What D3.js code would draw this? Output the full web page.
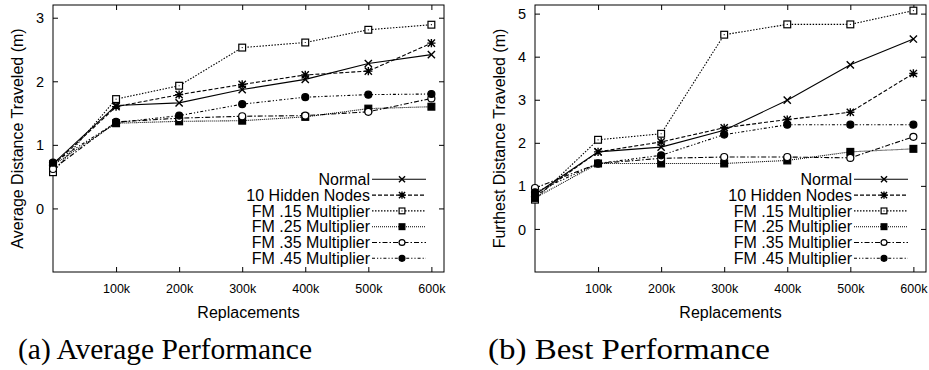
<!DOCTYPE html>
<html><head><meta charset="utf-8">
<script src="https://cdn.jsdelivr.net/npm/d3@7"></script>
<style>body{margin:0;background:#fff} svg{display:block}</style>
</head><body>
<svg id="c" width="929" height="370"></svg>
<script>
// ---------- data ----------
const replacements = [0, 100000, 200000, 300000, 400000, 500000, 600000];
const xTickValues = [100000, 200000, 300000, 400000, 500000, 600000];
const xTickLabels = ["100k", "200k", "300k", "400k", "500k", "600k"];
const seriesNames = ["Normal", "10 Hidden Nodes", "FM .15 Multiplier", "FM .25 Multiplier", "FM .35 Multiplier", "FM .45 Multiplier"];

// (a) Average performance
const avgNormal = [0.70, 1.62, 1.66, 1.87, 2.03, 2.28, 2.42];
const avgHidden = [0.68, 1.60, 1.79, 1.95, 2.10, 2.16, 2.60];
const avgFM15   = [0.57, 1.72, 1.93, 2.53, 2.61, 2.81, 2.89];
const avgFM25   = [0.68, 1.34, 1.37, 1.38, 1.44, 1.57, 1.60];
const avgFM35   = [0.62, 1.36, 1.42, 1.45, 1.46, 1.52, 1.73];
const avgFM45   = [0.72, 1.35, 1.46, 1.64, 1.75, 1.79, 1.80];
const avgYTicks = [0, 1, 2, 3];

// (b) Best performance
const bestNormal = [0.80, 1.79, 1.90, 2.29, 2.99, 3.81, 4.41];
const bestHidden = [0.75, 1.79, 2.02, 2.35, 2.54, 2.71, 3.61];
const bestFM15   = [0.68, 2.07, 2.21, 4.51, 4.75, 4.75, 5.07];
const bestFM25   = [0.72, 1.52, 1.52, 1.52, 1.59, 1.79, 1.86];
const bestFM35   = [0.95, 1.52, 1.64, 1.67, 1.67, 1.65, 2.14];
const bestFM45   = [0.85, 1.52, 1.71, 2.19, 2.42, 2.42, 2.42];
const bestYTicks = [0, 1, 2, 3, 4, 5];

// ---------- styles ----------
const dashes  = [null, "4,2", "1.5,1.5", "1,1", "5,2,1.5,2", "3,2,1.2,2,1.2,2"];
const markers = ["x", "star", "sqOpen", "sqFill", "cirOpen", "cirFill"];

const svg = d3.select("#c");
const sansFont = "'Liberation Sans', Arial, Helvetica, sans-serif";

function drawMarker(g, type, cx, cy, sc) {
  const s = 3.6 * sc;
  if (type === "x" || type === "star") {
    g.append("path").attr("d", `M${cx-s},${cy-s}L${cx+s},${cy+s}M${cx-s},${cy+s}L${cx+s},${cy-s}` +
      (type === "star" ? `M${cx-s-0.5},${cy}L${cx+s+0.5},${cy}M${cx},${cy-s-0.5}L${cx},${cy+s+0.5}` : ""))
      .attr("stroke", "#000").attr("stroke-width", 1.4).attr("fill", "none");
  } else if (type === "sqOpen" || type === "sqFill") {
    const r = 3.4 * sc;
    g.append("rect").attr("x", cx-r).attr("y", cy-r).attr("width", 2*r).attr("height", 2*r)
      .attr("fill", type === "sqFill" ? "#000" : "#fff").attr("stroke", "#000").attr("stroke-width", 1.2);
    if (type === "sqOpen") g.append("circle").attr("cx", cx).attr("cy", cy).attr("r", 0.6).attr("fill", "#000");
  } else {
    g.append("circle").attr("cx", cx).attr("cy", cy).attr("r", 3.5 * sc)
      .attr("fill", type === "cirFill" ? "#000" : "#fff").attr("stroke", "#000").attr("stroke-width", 1.2);
  }
}

function drawPanel(cfg) {
  const g = svg.append("g").attr("transform", `translate(${cfg.left},${cfg.top})`);
  const w = 391, h = 267;
  const x = d3.scaleLinear().domain([0, 620000]).range([0, w]);
  const y = d3.scaleLinear().domain(cfg.yDomain).range([h, 0]);
  const fmt = d => xTickLabels[xTickValues.indexOf(d)];

  // axes with inward ticks
  const ax = [
    g.append("g").attr("transform", `translate(0,${h})`).call(d3.axisBottom(x).tickValues(xTickValues).tickFormat(fmt).tickSize(-5).tickSizeOuter(0)),
    g.append("g").call(d3.axisTop(x).tickValues(xTickValues).tickFormat("").tickSize(-5).tickSizeOuter(0)),
    g.append("g").call(d3.axisLeft(y).tickValues(cfg.yTicks).tickFormat(d3.format("d")).tickSize(-5).tickSizeOuter(0).tickPadding(9)),
    g.append("g").attr("transform", `translate(${w},0)`).call(d3.axisRight(y).tickValues(cfg.yTicks).tickFormat("").tickSize(-5).tickSizeOuter(0))
  ];
  ax.forEach(a => { a.select(".domain").remove(); a.selectAll("line").attr("stroke", "#000"); });
  ax[0].selectAll("text").attr("y", 16.7).attr("dy", "0.35em")
    .style("font-family", sansFont).style("font-size", "12.5px").attr("fill", "#000");
  ax[2].selectAll("text").attr("dy", "0.35em")
    .style("font-family", sansFont).style("font-size", "14.5px").attr("fill", "#000");

  // frame
  g.append("rect").attr("width", w).attr("height", h).attr("fill", "none").attr("stroke", "#000").attr("stroke-width", 1);

  // axis titles
  g.append("text").attr("x", w / 2).attr("y", 307).attr("text-anchor", "middle").attr("dy", "0.35em")
    .style("font-family", sansFont).style("font-size", "16px").text("Replacements");
  g.append("text").attr("transform", `translate(-36,${h / 2}) rotate(-90)`).attr("text-anchor", "middle").attr("dy", "0.35em")
    .style("font-family", sansFont).style("font-size", "16px").text(cfg.ylabel);

  // series
  const line = d3.line().x((d, i) => x(replacements[i])).y(d => y(d));
  cfg.series.forEach((vals, k) => {
    g.append("path").datum(vals).attr("d", line).attr("fill", "none").attr("stroke", "#000")
      .attr("stroke-width", 1.1).attr("stroke-dasharray", dashes[k]);
  });
  cfg.series.forEach((vals, k) => {
    vals.forEach((v, i) => drawMarker(g, markers[k], x(replacements[i]), y(v), 1));
  });

  // legend
  seriesNames.forEach((name, k) => {
    const ly = 174.3 + k * 15.8;
    g.append("text").attr("x", 317).attr("y", ly).attr("dy", "0.35em").attr("text-anchor", "end")
      .style("font-family", sansFont).style("font-size", "16px").text(name);
    g.append("line").attr("x1", 319).attr("x2", 373).attr("y1", ly).attr("y2", ly)
      .attr("stroke", "#000").attr("stroke-width", 1.1).attr("stroke-dasharray", dashes[k]);
    drawMarker(g, markers[k], 349, ly, 0.85);
  });

  // caption
  svg.append("text").attr("x", cfg.capX).attr("y", 359).attr("text-anchor", "middle")
    .attr("textLength", cfg.capLen).attr("lengthAdjust", "spacingAndGlyphs")
    .style("font-family", "'Liberation Serif', 'Times New Roman', serif").style("font-size", "29px").text(cfg.caption);
}

drawPanel({
  left: 53, top: 5, yDomain: [-1, 3.2], yTicks: avgYTicks,
  ylabel: "Average Distance Traveled (m)",
  series: [avgNormal, avgHidden, avgFM15, avgFM25, avgFM35, avgFM45],
  caption: "(a) Average Performance", capX: 165, capLen: 294
});
drawPanel({
  left: 535, top: 5, yDomain: [-1, 5.2], yTicks: bestYTicks,
  ylabel: "Furthest Distance Traveled (m)",
  series: [bestNormal, bestHidden, bestFM15, bestFM25, bestFM35, bestFM45],
  caption: "(b) Best Performance", capX: 629, capLen: 282
});
</script>
</body></html>
